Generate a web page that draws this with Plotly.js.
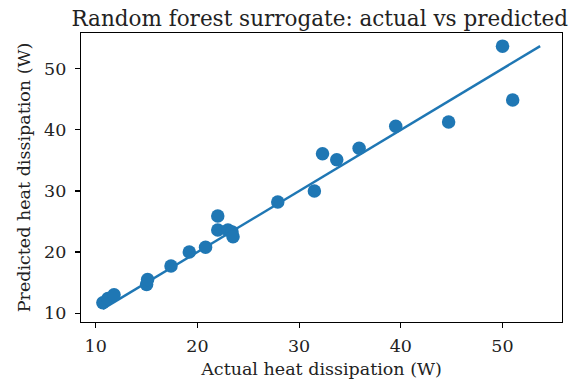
<!DOCTYPE html>
<html>
<head>
<meta charset="utf-8">
<script src="https://cdn.plot.ly/plotly-3.0.1.min.js"></script>
<style>html,body{margin:0;padding:0;background:#fff;}#chart{width:574px;height:382px;}</style>
</head>
<body>
<div id="chart"></div>
<script>
const actual    = [10.7, 11.2, 11.8, 15.0, 15.1, 17.4, 19.2, 20.8, 22.0, 22.0, 23.0, 23.4, 23.5, 27.9, 31.5, 32.3, 33.7, 35.9, 39.5, 44.7, 50.0, 51.0];
const predicted = [11.7, 12.4, 13.0, 14.7, 15.5, 17.7, 20.0, 20.8, 25.9, 23.6, 23.6, 23.3, 22.5, 28.2, 30.0, 36.1, 35.1, 37.0, 40.6, 41.3, 53.7, 44.9];
const lineMin = Math.min(...actual, ...predicted);
const lineMax = Math.max(...actual, ...predicted);
const idealLine = [lineMin, lineMax];
const tickValues = [10, 20, 30, 40, 50];

const blue = '#1f77b4';
const font = 'DejaVu Serif, serif';

const traces = [
  {x: idealLine, y: idealLine, mode: 'lines', line: {color: blue, width: 2.4}, hoverinfo: 'skip', showlegend: false},
  {x: actual, y: predicted, mode: 'markers', marker: {color: blue, size: 13.5}, showlegend: false}
];

const span = lineMax - lineMin;
const rng = [lineMin - 0.05 * span, lineMax + 0.05 * span];

const axisBase = {
  range: rng, tickvals: tickValues, showgrid: false, zeroline: false,
  showline: true, mirror: true, linecolor: '#000', linewidth: 1.2,
  ticks: 'outside', ticklen: 5, tickwidth: 1.2, tickcolor: '#000',
  tickfont: {family: font, size: 17.5, color: '#222'}
};

const layout = {
  width: 574, height: 382,
  margin: {l: 81, r: 12, t: 33, b: 60},
  paper_bgcolor: '#fff', plot_bgcolor: '#fff',
  font: {family: font, color: '#222'},
  title: {text: 'Random forest surrogate: actual vs predicted', font: {family: font, size: 21.5, color: '#222'}, x: 0.557, xanchor: 'center', y: 0.952, yanchor: 'middle'},
  xaxis: Object.assign({}, axisBase, {ticklabelstandoff: 3, title: {text: 'Actual heat dissipation (W)', font: {family: font, size: 17.5, color: '#222'}, standoff: 7}}),
  yaxis: Object.assign({}, axisBase, {ticklabelstandoff: 5, title: {text: 'Predicted heat dissipation (W)', font: {family: font, size: 17.5, color: '#222'}, standoff: 8}})
};

Plotly.newPlot('chart', traces, layout, {displayModeBar: false, staticPlot: true});
</script>
</body>
</html>
